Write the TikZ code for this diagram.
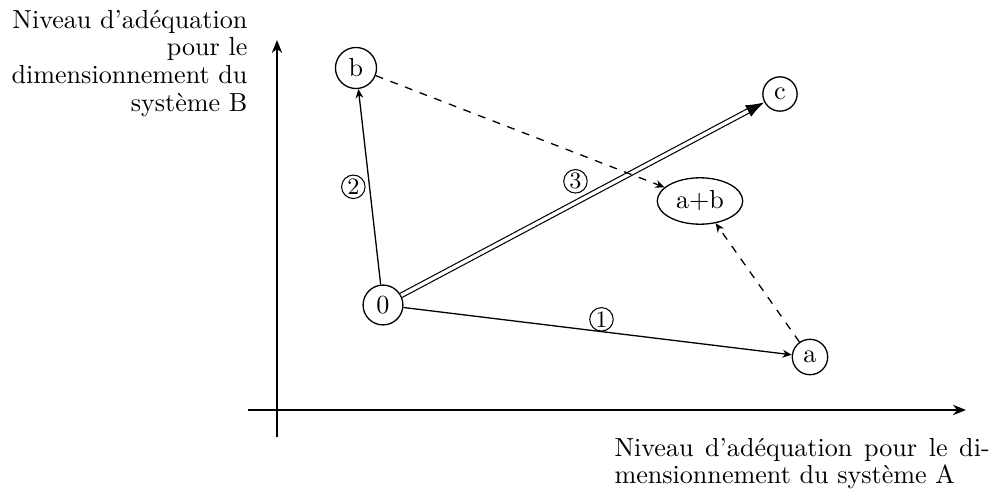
\documentclass[tikz,border=0pt]{standalone}
\usetikzlibrary{arrows.meta,shapes.geometric}
\begin{document}
\begin{tikzpicture}[x=0.383pt,y=-0.383pt,
  state/.style={circle,draw,line width=0.5pt,inner sep=2.4pt},
  sumnode/.style={ellipse,draw,line width=0.5pt,inner sep=2.4pt},
  axis/.style={line width=0.6pt,-{Stealth[length=5pt,width=4pt]}},
  conn/.style={line width=0.5pt,-{Stealth[length=3.5pt,width=3pt]}},
  dconn/.style={line width=0.5pt,dashed,-{Stealth[length=3.5pt,width=3pt]}},
  num/.style={circle,draw,line width=0.4pt,inner sep=0pt,minimum size=9pt,font=\small},
  lbl/.style={inner sep=0pt,font=\fontsize{10}{10.6}\selectfont}]
\useasboundingbox (0,0) rectangle (994,492);
% axes
\coordinate (xs) at (248,410);
\coordinate (xe) at (966,410);
\coordinate (ys) at (277,437);
\coordinate (ye) at (277,40);
\draw[axis] (xs) -- (xe);
\draw[axis] (ys) -- (ye);
\node[lbl,align=right,anchor=north east] (ylab) at (248,9.5)
  {Niveau d'adéquation\\ pour le\\ dimensionnement du\\ système B};
\node[lbl,text width=143.7pt,align=justify,anchor=north west] (xlab) at (614,437.5)
  {\noindent Niveau d'adéquation pour le di-\linebreak mensionnement du système A};
% nodes
\node[state] (o) at (383,305) {0};
\node[state] (b) at (356,68) {b};
\node[state] (c) at (780,94) {c};
\node[sumnode] (ab) at (700,201) {a+b};
\node[state] (a) at (810,357) {a};
% connectors
\draw[conn] (o) -- node[num,pos=0.5,left=1.5pt] {2} (b);
\draw[conn] (o) -- node[num,pos=0.51,above=0pt] {1} (a);
\draw[line width=0.45pt,double,double distance=1.3pt,-{Latex[length=7pt,width=5pt]}] (o) -- (c);
\path (o) -- node[num,pos=0.48,above=3.5pt] {3} (c);
\draw[dconn] (b) -- (ab);
\draw[dconn] (a) -- (ab);
\end{tikzpicture}
\end{document}
